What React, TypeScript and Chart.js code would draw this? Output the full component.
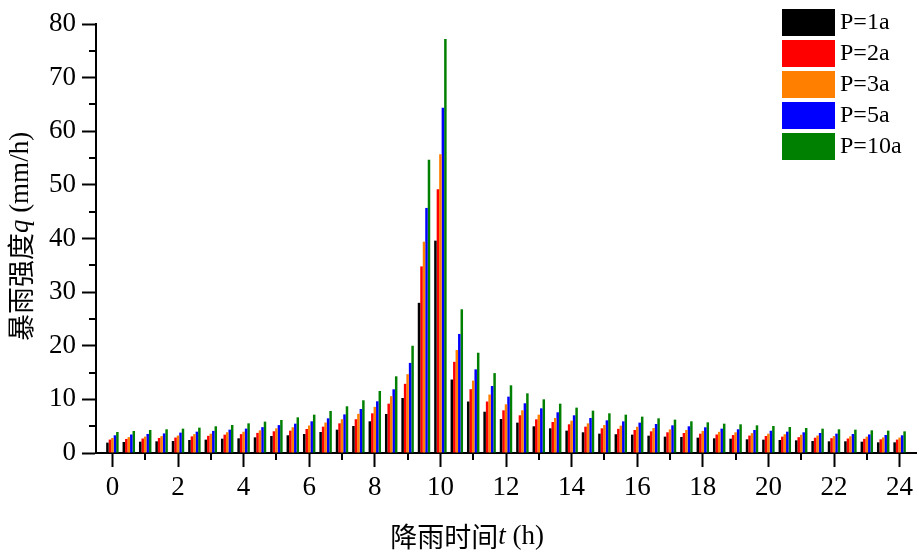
import React, { useEffect, useRef } from "react";
import { Chart, registerables } from "chart.js";

Chart.register(...registerables);

// Rainfall time (h), one group every half hour
const hours = [
  0, 0.5, 1, 1.5, 2, 2.5, 3, 3.5, 4, 4.5, 5, 5.5, 6, 6.5, 7, 7.5, 8, 8.5, 9, 9.5,
  10, 10.5, 11, 11.5, 12, 12.5, 13, 13.5, 14, 14.5, 15, 15.5, 16, 16.5, 17, 17.5,
  18, 18.5, 19, 19.5, 20, 20.5, 21, 21.5, 22, 22.5, 23, 23.5, 24,
];

// Storm intensity q (mm/h) per return period
const p1a = [
  1.93, 2.05, 2.11, 2.18, 2.24, 2.43, 2.49, 2.67, 2.74, 2.92, 3.17, 3.3, 3.54, 3.92, 4.35, 5.04, 5.91, 7.28, 10.26, 28.0,
  39.6, 13.7, 9.6, 7.7, 6.34, 5.66, 4.98, 4.6, 4.17, 3.86, 3.61, 3.5, 3.42, 3.23, 3.05, 2.99,
  2.86, 2.74, 2.67, 2.55, 2.49, 2.43, 2.36, 2.24, 2.18, 2.18, 2.11, 1.99, 1.99,
];
const p2a = [
  2.5, 2.62, 2.7, 2.8, 2.88, 3.1, 3.2, 3.42, 3.52, 3.75, 4.05, 4.17, 4.48, 4.91, 5.53, 6.3, 7.4, 9.2, 12.9, 34.8,
  49.2, 17.0, 11.9, 9.6, 7.96, 7.03, 6.28, 5.78, 5.35, 4.91, 4.6, 4.5, 4.29, 4.04, 3.86, 3.73,
  3.6, 3.45, 3.35, 3.25, 3.17, 3.05, 2.95, 2.85, 2.76, 2.7, 2.64, 2.55, 2.5,
];
const p3a = [
  2.8, 2.96, 3.06, 3.15, 3.25, 3.52, 3.6, 3.87, 3.97, 4.23, 4.6, 4.8, 5.13, 5.68, 6.3, 7.3, 8.6, 10.6, 14.7, 39.4,
  55.7, 19.2, 13.5, 10.9, 9.08, 7.96, 7.15, 6.53, 6.03, 5.53, 5.22, 5.1, 4.9, 4.65, 4.4, 4.3,
  4.12, 3.95, 3.85, 3.7, 3.6, 3.5, 3.4, 3.25, 3.15, 3.12, 3.05, 2.9, 2.88,
];
const p5a = [
  3.3, 3.45, 3.55, 3.65, 3.8, 3.98, 4.12, 4.35, 4.55, 4.82, 5.2, 5.47, 5.91, 6.47, 7.2, 8.21, 9.64, 11.88, 16.8, 45.7,
  64.4, 22.2, 15.6, 12.5, 10.51, 9.27, 8.33, 7.59, 7.03, 6.53, 6.09, 5.9, 5.66, 5.41, 5.16, 4.98,
  4.79, 4.54, 4.42, 4.29, 4.15, 3.98, 3.86, 3.73, 3.61, 3.54, 3.46, 3.36, 3.3,
];
const p10a = [
  3.92, 4.1, 4.29, 4.42, 4.54, 4.73, 4.98, 5.22, 5.53, 5.85, 6.16, 6.65, 7.15, 7.84, 8.71, 9.83, 11.57, 14.3, 20.0, 54.7,
  77.2, 26.8, 18.7, 14.9, 12.62, 11.13, 10.01, 9.2, 8.46, 7.9, 7.4, 7.15, 6.78, 6.47, 6.22, 5.91,
  5.72, 5.47, 5.35, 5.16, 5.04, 4.85, 4.66, 4.54, 4.42, 4.35, 4.23, 4.17, 4.04,
];

const seriesLabels = ["P=1a", "P=2a", "P=3a", "P=5a", "P=10a"];
const seriesValues = [p1a, p2a, p3a, p5a, p10a];
const seriesColors = ["#000000", "#FF0000", "#FF8000", "#0000FF", "#008000"];

const xMajorTicks = [0, 2, 4, 6, 8, 10, 12, 14, 16, 18, 20, 22, 24];
const xMinorTicks = [1, 3, 5, 7, 9, 11, 13, 15, 17, 19, 21, 23];
const yMajorTicks = [0, 10, 20, 30, 40, 50, 60, 70, 80];
const yMinorTicks = [5, 15, 25, 35, 45, 55, 65, 75];

const yTitle = [
  { text: "暴雨强度", style: "cjk" },
  { text: "q", style: "italic" },
  { text: " (mm/h)", style: "serif" },
];
const xTitle = [
  { text: "降雨时间", style: "cjk" },
  { text: "t", style: "italic" },
  { text: " (h)", style: "serif" },
];

const SERIF = '"Liberation Serif", "Times New Roman", serif';
const CJK = '"Noto Sans CJK SC", sans-serif';

function fontFor(style: string, size: number) {
  if (style === "cjk") return `${size}px ${CJK}`;
  if (style === "italic") return `italic ${size}px ${SERIF}`;
  return `${size}px ${SERIF}`;
}

function drawRich(ctx: CanvasRenderingContext2D, parts: { text: string; style: string }[], size: number) {
  let total = 0;
  const widths = parts.map((p) => {
    ctx.font = fontFor(p.style, size);
    const w = ctx.measureText(p.text).width;
    total += w;
    return w;
  });
  let x = -total / 2;
  parts.forEach((p, i) => {
    ctx.font = fontFor(p.style, size);
    ctx.fillText(p.text, x, 0);
    x += widths[i];
  });
}

const decorPlugin = {
  id: "decor",
  afterDraw(chart: any) {
    const ctx: CanvasRenderingContext2D = chart.ctx;
    const xs = chart.scales.x;
    const ys = chart.scales.y;
    const area = chart.chartArea;
    ctx.save();
    // minor ticks
    ctx.strokeStyle = "#000";
    ctx.lineWidth = 2;
    ctx.beginPath();
    xMinorTicks.forEach((v) => {
      const px = Math.round(xs.getPixelForValue(v));
      ctx.moveTo(px, area.bottom);
      ctx.lineTo(px, area.bottom + 7);
    });
    yMinorTicks.forEach((v) => {
      const py = Math.round(ys.getPixelForValue(v));
      ctx.moveTo(area.left, py);
      ctx.lineTo(area.left - 7, py);
    });
    ctx.stroke();

    // axis titles
    ctx.fillStyle = "#000";
    ctx.textBaseline = "middle";
    ctx.textAlign = "left";
    ctx.save();
    ctx.translate(467, 537);
    drawRich(ctx, xTitle, 27);
    ctx.restore();
    ctx.save();
    ctx.translate(21, (area.top + area.bottom) / 2 - 2);
    ctx.rotate(-Math.PI / 2);
    drawRich(ctx, yTitle, 27);
    ctx.restore();

    // legend
    chart.data.datasets.forEach((ds: any, i: number) => {
      const bx = 782;
      const by = 9 + i * 31;
      ctx.fillStyle = ds.backgroundColor;
      ctx.fillRect(bx, by, 53, 27);
      ctx.fillStyle = "#000";
      ctx.font = `24px ${SERIF}`;
      ctx.textBaseline = "middle";
      ctx.fillText(ds.label, 840, by + 14);
    });
    ctx.restore();
  },
};

export default function App() {
  const ref = useRef<HTMLCanvasElement | null>(null);

  useEffect(() => {
    document.body.style.margin = "0";
    const canvas = ref.current;
    if (!canvas) return;
    const chart = new Chart(canvas, {
      type: "bar",
      data: {
        datasets: seriesLabels.map((label, i) => ({
          label,
          data: hours.map((h, j) => ({ x: h, y: seriesValues[i][j] })),
          backgroundColor: seriesColors[i],
          borderWidth: 0,
          categoryPercentage: 0.76,
          barPercentage: 1.0,
        })),
      },
      options: {
        responsive: false,
        animation: false,
        devicePixelRatio: 1,
        layout: { padding: { left: 0, right: 3, top: 24, bottom: 0 } },
        plugins: {
          legend: { display: false },
          tooltip: { enabled: false },
          title: { display: false },
        },
        scales: {
          x: {
            type: "linear",
            min: -0.5,
            max: 24.5,
            offset: false,
            afterBuildTicks: (scale: any) => {
              scale.ticks = xMajorTicks.map((v) => ({ value: v }));
            },
            afterFit: (scale: any) => {
              scale.height = 100;
            },
            grid: {
              display: true,
              offset: false,
              drawOnChartArea: false,
              drawTicks: true,
              tickLength: 14,
              tickWidth: 2,
              tickColor: "#000",
            },
            border: { display: true, color: "#000", width: 2 },
            ticks: {
              color: "#000",
              font: { family: SERIF, size: 27 },
              padding: 5,
              maxRotation: 0,
              autoSkip: false,
              callback: (v: any) => String(v),
            },
          },
          y: {
            type: "linear",
            min: 0,
            max: 80,
            afterBuildTicks: (scale: any) => {
              scale.ticks = yMajorTicks.map((v) => ({ value: v }));
            },
            afterFit: (scale: any) => {
              scale.width = 96;
            },
            grid: {
              display: true,
              drawOnChartArea: false,
              drawTicks: true,
              tickLength: 14,
              tickWidth: 2,
              tickColor: "#000",
            },
            border: { display: true, color: "#000", width: 2 },
            ticks: {
              color: "#000",
              font: { family: SERIF, size: 27 },
              padding: 6,
              callback: (v: any) => String(v),
            },
          },
        },
      },
      plugins: [decorPlugin],
    });
    return () => chart.destroy();
  }, []);

  return (
    <div style={{ position: "absolute", left: 0, top: 0, width: 919, height: 553, background: "#fff" }}>
      <canvas ref={ref} width={919} height={553} style={{ width: 919, height: 553, display: "block" }} />
    </div>
  );
}
